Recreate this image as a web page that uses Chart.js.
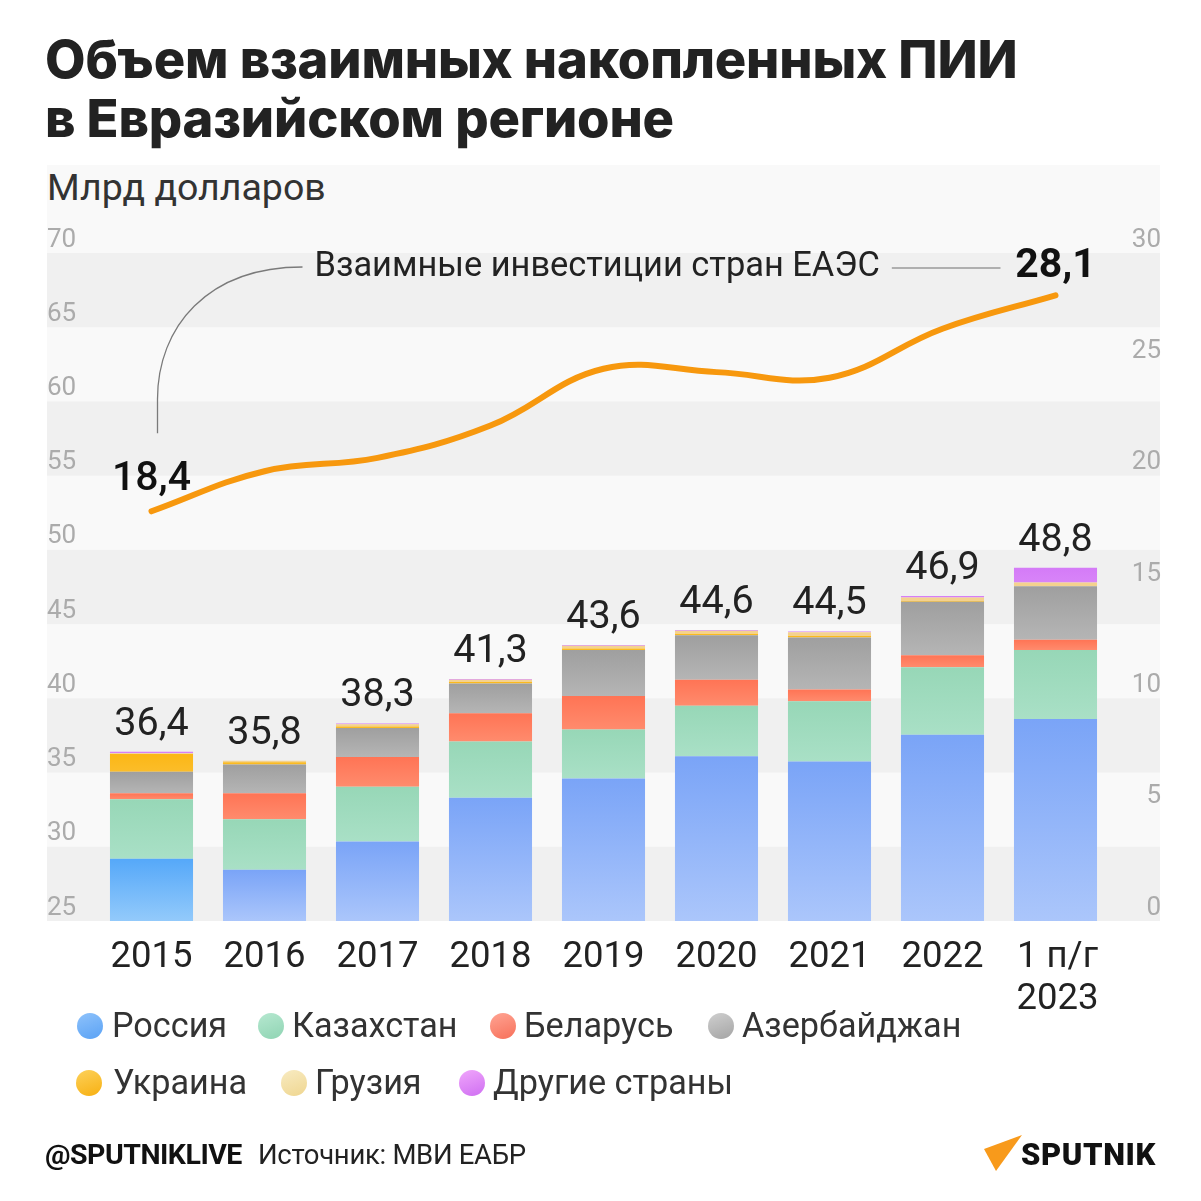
<!DOCTYPE html>
<html lang="ru">
<head>
<meta charset="utf-8">
<script src="https://cdn.jsdelivr.net/npm/chart.js@4"></script>
<style>
  html,body{margin:0;padding:0;background:#fff;}
  body{width:1201px;height:1201px;position:relative;overflow:hidden;font-family:Roboto, "DejaVu Sans", sans-serif;}
  #title{position:absolute;left:45px;top:30px;font:800 52.5px Inter, Roboto, sans-serif;line-height:59px;color:#222;white-space:nowrap;letter-spacing:-0.2px;}
  #panel{position:absolute;left:47px;top:165px;width:1113px;height:756px;background:#f9f9f9;}
  #sub{position:absolute;left:47px;top:165px;font:37.5px Roboto, sans-serif;line-height:44px;color:#333;}
  #c{position:absolute;left:0;top:0;}
  .lg{position:absolute;font:34.2px Roboto, sans-serif;color:#333;line-height:40px;white-space:nowrap;}
  .dot{position:absolute;width:26px;height:26px;border-radius:50%;}
  #foot1{position:absolute;left:45px;top:1139px;font:700 28.5px Roboto, sans-serif;line-height:32px;color:#111;letter-spacing:-0.5px;}
  #foot2{position:absolute;left:258px;top:1139px;font:27.5px Roboto, sans-serif;line-height:32px;color:#222;letter-spacing:-0.3px;}
  #logo{position:absolute;left:980px;top:1130px;}
</style>
</head>
<body>
<div id="title">Объем взаимных накопленных ПИИ<br>в Евразийском регионе</div>
<div id="panel"></div>
<div id="sub">Млрд долларов</div>
<canvas id="c" width="1201" height="1201"></canvas>
<div id="legend"></div>
<div id="foot1">@SPUTNIKLIVE</div>
<div id="foot2">Источник: МВИ ЕАБР</div>
<svg id="logo" width="200" height="50" viewBox="0 0 200 50">
  <polygon points="4,19 42,5 16,41" fill="#f89a1b"/>
  <text x="41" y="35" font-family="Roboto, sans-serif" font-weight="900" font-size="31" fill="#111" letter-spacing="0.6">SPUTNIK</text>
</svg>
<script>
// ---------- DATA ----------
const categories = ['2015','2016','2017','2018','2019','2020','2021','2022',['1 п/г','2023']];
const seriesNames = ['Россия','Казахстан','Беларусь','Азербайджан','Украина','Грузия','Другие страны'];
const russia     = [29.2, 28.45, 30.35, 33.3, 34.6, 36.1, 35.75, 37.55, 38.6];
const kazakhstan = [4.0, 3.4, 3.7, 3.8, 3.3, 3.4, 4.05, 4.55, 4.65];
const belarus    = [0.4, 1.75, 2.0, 1.9, 2.25, 1.75, 0.8, 0.8, 0.7];
const azerbaijan = [1.45, 1.95, 1.95, 2.0, 3.1, 3.0, 3.5, 3.6, 3.6];
const ukraine    = [1.2, 0.15, 0.1, 0.1, 0.1, 0.1, 0.1, 0.05, 0.0];
const georgia    = [0.05, 0.1, 0.15, 0.15, 0.2, 0.2, 0.25, 0.25, 0.25];
const others     = [0.1, 0.0, 0.05, 0.05, 0.05, 0.05, 0.05, 0.1, 1.0];
const totals     = [36.4, 35.8, 38.3, 41.3, 43.6, 44.6, 44.5, 46.9, 48.8];
const eaesInvest = [18.4, 20.2, 20.8, 22.25, 24.8, 24.65, 24.4, 26.6, 28.1];
const leftTicks  = [25, 30, 35, 40, 45, 50, 55, 60, 65, 70];
const rightTicks = [0, 5, 10, 15, 20, 25, 30];
const lineLabel  = 'Взаимные инвестиции стран ЕАЭС';

// ---------- STYLES ----------
const seriesData = [russia, kazakhstan, belarus, azerbaijan, ukraine, georgia, others];
const segColors = [
  ['#7aa4f7', '#abc6fb'],
  ['#97d7b7', '#a9e0c6'],
  ['#ff7455', '#ff8b6d'],
  ['#9f9f9f', '#b5b5b5'],
  ['#fbb716', '#fbbd2a'],
  ['#f4d28e', '#f4d28e'],
  ['#d47bf7', '#d884f8']
];
const russiaFirst = ['#55a8f9', '#93cafb'];
const legendColors = [
  ['#8ec2fb','#5aa2f5'], ['#b6e8d0','#8fd4b3'], ['#ffa493','#f7705a'], ['#cfcfcf','#a4a4a4'],
  ['#fdd15a','#f7b012'], ['#f8ebc2','#efd690'], ['#f0a6fb','#cf6ff2']
];
const legendPos = [
  [90,1026,112],[271,1026,292],[503,1026,524],[721,1026,742],
  [89,1083,113],[294,1083,315],[472,1083,493]
];
const fmt = v => v.toFixed(1).replace('.', ',');

// legend
const lg = document.getElementById('legend');
seriesNames.forEach((n, i) => {
  const [cx, cy, tx] = legendPos[i];
  const d = document.createElement('div');
  d.className = 'dot';
  d.style.left = (cx - 13) + 'px'; d.style.top = (cy - 13) + 'px';
  d.style.background = `linear-gradient(160deg, ${legendColors[i][0]}, ${legendColors[i][1]})`;
  lg.appendChild(d);
  const t = document.createElement('div');
  t.className = 'lg'; t.textContent = n;
  t.style.left = tx + 'px'; t.style.top = (cy - 21) + 'px';
  lg.appendChild(t);
});

function segGradient(si) {
  return (c) => {
    const ch = c.chart, a = ch.chartArea, ys = ch.scales.y;
    const i = c.dataIndex;
    const cols = (si === 0 && i === 0) ? russiaFirst : segColors[si];
    if (!a || !ys || i === undefined) return cols[0];
    let base = 0;
    for (let k = 0; k < si; k++) base += seriesData[k][i];
    const top = base + seriesData[si][i];
    let yt = ys.getPixelForValue(top), yb = Math.min(ys.getPixelForValue(base), a.bottom);
    if (!isFinite(yt) || !isFinite(yb) || yb - yt < 1) return cols[0];
    const g = ch.ctx.createLinearGradient(0, yt, 0, yb);
    g.addColorStop(0, cols[0]); g.addColorStop(1, cols[1]);
    return g;
  };
}

const deco = {
  id: 'deco',
  beforeDatasetsDraw(chart) {
    const { ctx, scales: { y } } = chart;
    ctx.save();
    ctx.fillStyle = '#f0f0f0';
    for (let k = 0; k < leftTicks.length - 1; k++) {
      if (k % 2 === 0) {
        const y0 = y.getPixelForValue(leftTicks[k]);
        const y1p = y.getPixelForValue(leftTicks[k + 1]);
        ctx.fillRect(47, y1p, 1113, y0 - y1p);
      }
    }
    ctx.restore();
  },
  afterDatasetsDraw(chart) {
    const { ctx, chartArea: a, scales: { x, y, y1 } } = chart;
    ctx.save();
    ctx.textBaseline = 'middle';
    // axis tick labels
    ctx.font = '26px Roboto, sans-serif';
    ctx.fillStyle = '#ababab';
    ctx.textAlign = 'left';
    leftTicks.forEach(v => ctx.fillText(String(v), 47, y.getPixelForValue(v) - 13));
    ctx.textAlign = 'right';
    rightTicks.forEach(v => ctx.fillText(String(v), 1161, y1.getPixelForValue(v) - 13));
    // category labels
    ctx.font = '36.5px Roboto, sans-serif';
    ctx.fillStyle = '#222';
    ctx.textAlign = 'center';
    categories.forEach((c, i) => {
      const lines = Array.isArray(c) ? c : [c];
      lines.forEach((t, j) => ctx.fillText(t, x.getPixelForValue(i) + (lines.length > 1 ? 2 : 0), a.bottom + 37 + j * 42));
    });
    // totals
    ctx.font = '39.5px Roboto, sans-serif';
    totals.forEach((t, i) => ctx.fillText(fmt(t), x.getPixelForValue(i), y.getPixelForValue(t) - 27));
    // line annotations
    const n = eaesInvest.length;
    const x0 = x.getPixelForValue(0), p0 = y1.getPixelForValue(eaesInvest[0]);
    const xl = x.getPixelForValue(n - 1);
    const rowY = a.top + 14;
    ctx.font = '500 41px Roboto, sans-serif';
    ctx.fillStyle = '#111';
    ctx.fillText(fmt(eaesInvest[0]), x0, p0 - 32);
    ctx.font = '700 41px Roboto, sans-serif';
    ctx.fillText(fmt(eaesInvest[n - 1]), xl, rowY);
    // connector
    const cx = x0 + 6;
    ctx.strokeStyle = '#7a7a7a';
    ctx.lineWidth = 1.3;
    ctx.beginPath();
    ctx.moveTo(cx, p0 - 78);
    ctx.lineTo(cx, p0 - 112);
    ctx.bezierCurveTo(cx, rowY + 60, cx + 50, rowY, cx + 145, rowY);
    ctx.stroke();
    ctx.font = '34.4px Roboto, sans-serif';
    ctx.fillStyle = '#222';
    ctx.textAlign = 'left';
    const tx = cx + 157;
    ctx.fillText(lineLabel, tx, rowY);
    const tw = ctx.measureText(lineLabel).width;
    ctx.strokeStyle = '#9a9a9a';
    ctx.lineWidth = 1.5;
    ctx.beginPath();
    ctx.moveTo(tx + tw + 12, rowY + 1);
    ctx.lineTo(xl - 55, rowY + 1);
    ctx.stroke();
    ctx.restore();
  }
};

const datasets = seriesNames.map((name, si) => ({
  type: 'bar',
  label: name,
  data: seriesData[si],
  yAxisID: 'y',
  stack: 's',
  order: 1,
  backgroundColor: segGradient(si),
  borderWidth: 0,
  barPercentage: 0.735,
  categoryPercentage: 1
}));
datasets.push({
  type: 'line',
  label: lineLabel,
  data: eaesInvest,
  yAxisID: 'y1',
  order: 0,
  borderColor: '#f7980e',
  borderWidth: 6,
  borderCapStyle: 'round',
  borderJoinStyle: 'round',
  pointRadius: 0,
  tension: 0.4,
  fill: false
});

new Chart(document.getElementById('c'), {
  type: 'bar',
  data: { labels: categories, datasets },
  options: {
    responsive: false,
    animation: false,
    devicePixelRatio: 1,
    layout: { padding: { left: 95, right: 89, top: 253, bottom: 280 } },
    plugins: { legend: { display: false }, tooltip: { enabled: false } },
    scales: {
      x: { display: false, stacked: true, offset: true },
      y: { display: false, stacked: true, min: 25, max: 70 },
      y1: { display: false, min: 0, max: 30, position: 'right', grid: { display: false } }
    }
  },
  plugins: [deco]
});
</script>
</body>
</html>
